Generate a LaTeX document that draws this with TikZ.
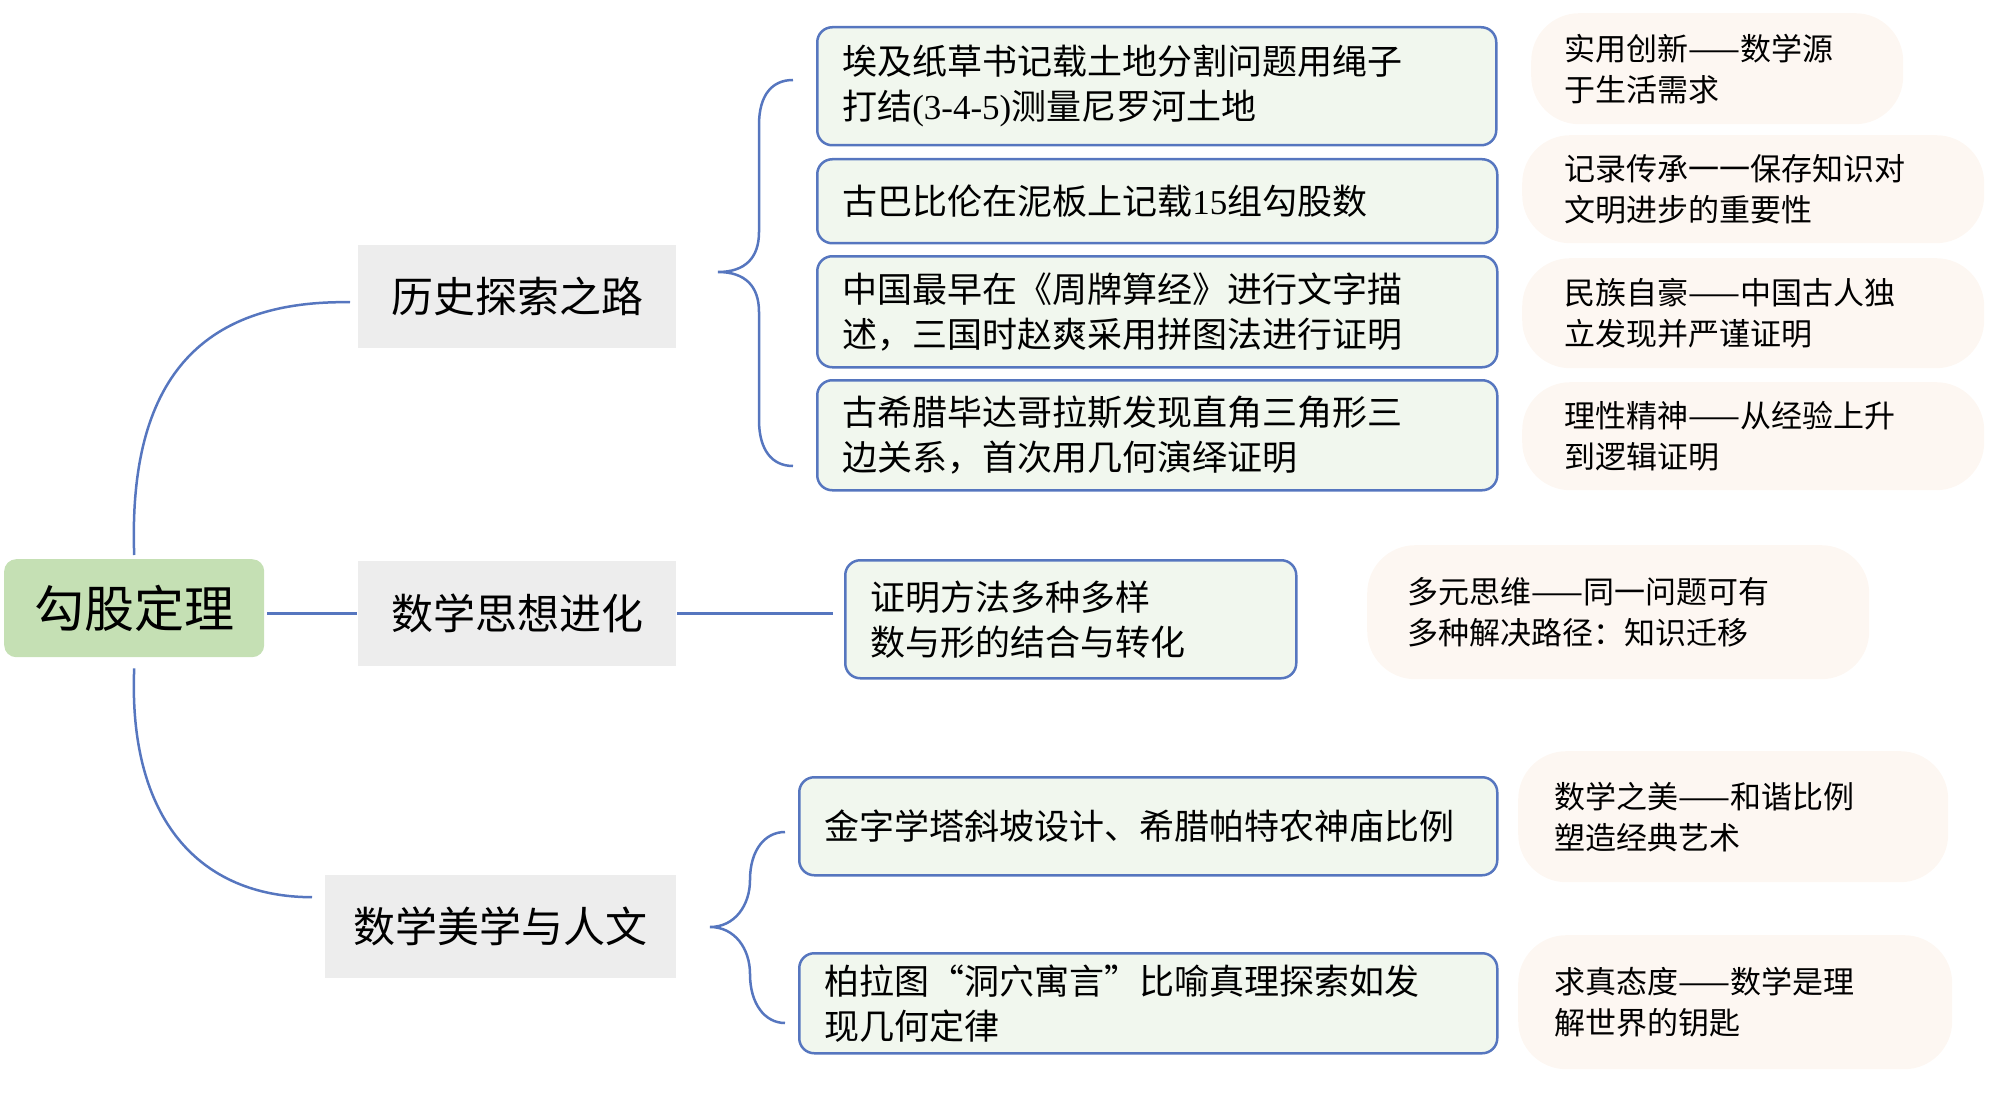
\documentclass[tikz,border=0pt]{standalone}
\usepackage{fontspec}
\setmainfont{Liberation Serif}
\newfontfamily\cjk{Noto Sans CJK SC}
\newfontfamily\lat{Liberation Serif}
\usetikzlibrary{calc}
\definecolor{lineblue}{HTML}{5676BF}
\definecolor{boxfill}{HTML}{F1F7EE}
\definecolor{lvlfill}{HTML}{EDEDED}
\definecolor{rootfill}{HTML}{C5E0B4}
\definecolor{notefill}{HTML}{FDF7F2}
\tikzset{
  conn/.style={draw=lineblue, line width=2.5pt},
  rootbox/.style={fill=rootfill, rounded corners=12pt, anchor=north west, inner sep=0pt,
    font=\cjk\fontsize{50}{60}\selectfont, align=center},
  lvlbox/.style={fill=lvlfill, anchor=north west, inner sep=0pt,
    font=\cjk\fontsize{42}{50}\selectfont, align=center},
  leafbox/.style={fill=boxfill, draw=lineblue, line width=2.5pt, rounded corners=15pt,
    anchor=north west, inner ysep=0pt, inner xsep=25pt, align=left,
    font=\cjk\fontsize{35}{45}\selectfont},
  notebox/.style={fill=notefill, rounded corners=48pt, anchor=north west, inner ysep=0pt,
    align=left, font=\cjk\fontsize{31}{41}\selectfont},
}
\begin{document}
\begin{tikzpicture}[x=1pt,y=-1pt]
\useasboundingbox (0,0) rectangle (2000,1110);
% root
\node[rootbox, minimum width=260pt, minimum height=98pt] (root) at (4,559) {勾股定理};
% level 1
\node[lvlbox, minimum width=318pt, minimum height=103pt] (l1a) at (358,245) {历史探索之路};
\node[lvlbox, minimum width=318pt, minimum height=105pt] (l1b) at (358,561) {数学思想进化};
\node[lvlbox, minimum width=351pt, minimum height=103pt] (l1c) at (325,875) {数学美学与人文};
% leaves
\node[leafbox, text width=629pt, minimum height=118pt] (b1) at (816,26)
  {埃及纸草书记载土地分割问题用绳子\\打结{\lat (3-4-5)}测量尼罗河土地};
\node[leafbox, text width=630pt, minimum height=84pt] (b2) at (816,158)
  {古巴比伦在泥板上记载{\lat 15}组勾股数};
\node[leafbox, text width=630pt, minimum height=111pt] (b3) at (816,255)
  {中国最早在《周牌算经》进行文字描\\述，三国时赵爽采用拼图法进行证明};
\node[leafbox, text width=630pt, minimum height=110pt] (b4) at (816,379)
  {古希腊毕达哥拉斯发现直角三角形三\\边关系，首次用几何演绎证明};
\node[leafbox, text width=401pt, minimum height=118pt] (b5) at (844,559)
  {证明方法多种多样\\数与形的结合与转化};
\node[leafbox, text width=648pt, minimum height=98pt, inner xsep=25pt] (b6) at (798,776)
  {金字学塔斜坡设计、希腊帕特农神庙比例};
\node[leafbox, text width=648pt, minimum height=100pt] (b7) at (798,952)
  {柏拉图“洞穴寓言”比喻真理探索如发\\现几何定律};
% notes
\node[notebox, inner xsep=33pt, text width=306pt, minimum height=111pt] (n1) at (1531,13)
  {实用创新——数学源\\于生活需求};
\node[notebox, inner xsep=42pt, text width=378pt, minimum height=108pt] (n2) at (1522,135)
  {记录传承一一保存知识对\\文明进步的重要性};
\node[notebox, inner xsep=42pt, text width=378pt, minimum height=110pt] (n3) at (1522,258)
  {民族自豪——中国古人独\\立发现并严谨证明};
\node[notebox, inner xsep=42pt, text width=378pt, minimum height=108pt] (n4) at (1522,382)
  {理性精神——从经验上升\\到逻辑证明};
\node[notebox, inner xsep=40pt, text width=422pt, minimum height=134pt] (n5) at (1367,545)
  {多元思维——同一问题可有\\多种解决路径：知识迁移};
\node[notebox, inner xsep=36pt, text width=358pt, minimum height=131pt] (n6) at (1518,751)
  {数学之美——和谐比例\\塑造经典艺术};
\node[notebox, inner xsep=36pt, text width=362pt, minimum height=134pt] (n7) at (1518,935)
  {求真态度——数学是理\\解世界的钥匙};
% connectors from root
\draw[conn] ([yshift=4pt]root.north) .. controls (128,380) and (200,300) .. ($(l1a.west)+(-8,5.5)$);
\draw[conn] ($(root.east |- l1b.west)+(3,0)$) -- ($(l1b.west)+(-1,0)$);
\draw[conn] ([yshift=-11pt]root.south) .. controls (128,820) and (200,897) .. ($(l1c.west)+(-13,-29.5)$);
% brace for history
\coordinate (hb) at (718,272);
\coordinate (hbt) at (793,80);
\coordinate (hbb) at (793,466);
\draw[conn] (hbt) .. controls (772,80) and (759,95) .. (759,125) -- (759,232)
  .. controls (759,258) and (745,272) .. (hb)
  .. controls (745,272) and (759,286) .. (759,312) -- (759,420)
  .. controls (759,450) and (772,466) .. (hbb);
% line for thought
\draw[conn] ($(l1b.east)+(1,0)$) -- ($(l1b.east -| b5.west)+(-11,0)$);
% brace for aesthetics
\coordinate (ab) at (710,927);
\coordinate (abt) at (785,832);
\coordinate (abb) at (785,1023);
\draw[conn] (abt) .. controls (765,832) and (750,850) .. (750,880)
  .. controls (750,905) and (735,927) .. (ab)
  .. controls (735,927) and (750,949) .. (750,974)
  .. controls (750,1004) and (765,1023) .. (abb);
\end{tikzpicture}
\end{document}
